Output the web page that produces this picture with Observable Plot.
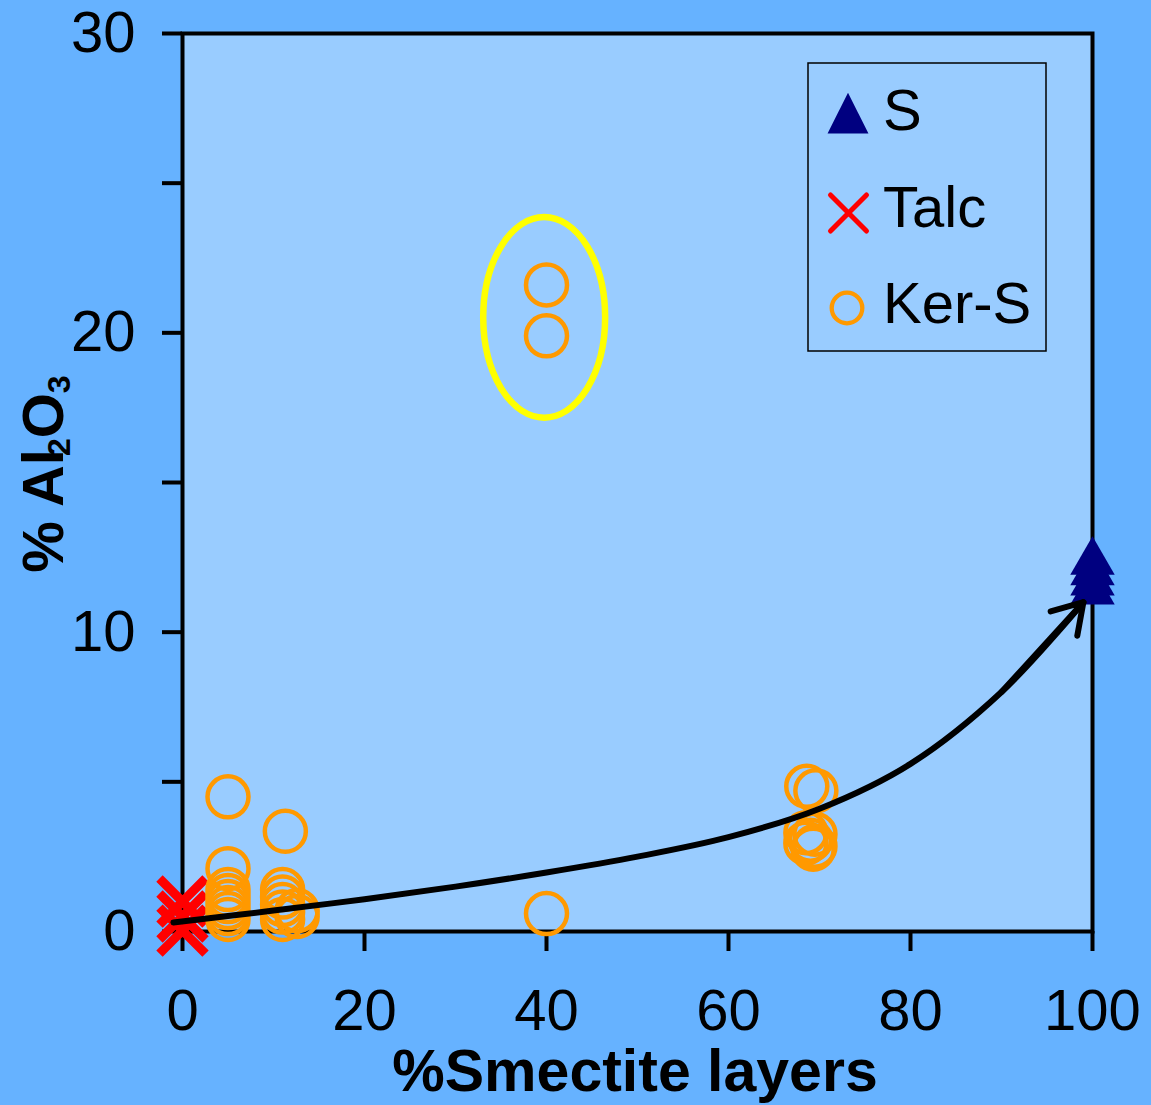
<!DOCTYPE html>
<html><head><meta charset="utf-8">
<script src="https://cdn.jsdelivr.net/npm/d3@7"></script>
<script src="https://cdn.jsdelivr.net/npm/@observablehq/plot@0.6"></script>
<style>
html,body{margin:0;padding:0;background:#66B2FF;width:1151px;height:1105px;overflow:hidden;}
#chart{position:relative;width:1151px;height:1105px;}
svg{display:block}
</style></head><body><div id="chart"></div>
<script>
// ---- data ----
const sX = [100, 100, 100, 100];
const sY = [12.35, 12.0, 11.65, 11.35];
const talcX = [0, 0, 0];
const talcY = [0.03, 0.5, 1.0];
const kerX = [5, 5, 5, 5, 5, 5, 5, 5, 11.3, 11, 11, 11, 11, 11, 12.6, 12.6, 40, 40, 40, 68.6, 69.6, 68.5, 69.5, 69, 68.5, 69.5, 69.3];
const kerY = [4.5, 2.1, 1.4, 1.2, 1.0, 0.8, 0.6, 0.4, 3.35, 1.4, 1.15, 0.9, 0.65, 0.4, 0.7, 0.5, 21.6, 19.9, 0.6, 4.85, 4.7, 3.3, 3.25, 3.05, 2.95, 2.85, 2.75];
const curveX = [-1, 10, 20, 30, 40, 50, 60, 70, 80, 90, 99];
const curveY = [0.3, 0.7, 1.08, 1.5, 1.97, 2.5, 3.15, 4.1, 5.6, 8.0, 11.0];
const xTicks = [0, 20, 40, 60, 80, 100];
const yTicks = [0, 5, 10, 15, 20, 25, 30];
const yLabels = [0, 10, 20, 30];
const ellipseCenter = [39.8, 20.5];
const ellipseRadius = [6.7, 3.35];
const legendNames = ["S", "Talc", "Ker-S"];
const xTitle = "%Smectite layers";

const FONT = "'Liberation Sans', Arial, sans-serif";
const sData = sX.map((x, i) => ({x, y: sY[i]}));
const talcData = talcX.map((x, i) => ({x, y: talcY[i]}));
const kerData = kerX.map((x, i) => ({x, y: kerY[i]}));
const curveData = curveX.map((x, i) => ({x, y: curveY[i]}));
const n = curveX.length;
const arrowData = [{x1: curveX[n - 2], y1: curveY[n - 2], x2: curveX[n - 1], y2: curveY[n - 1]}];

const plot = Plot.plot({
  width: 1151, height: 1105,
  marginLeft: 182, marginRight: 59, marginTop: 33, marginBottom: 174,
  style: {background: "transparent", fontFamily: FONT, color: "black", overflow: "visible"},
  x: {domain: [0, 100]},
  y: {domain: [0, 30]},
  marks: [
    Plot.frame({fill: "#99CCFF"}),
    Plot.frame({stroke: "black", strokeWidth: 4}),
    Plot.axisX({ticks: xTicks, tickSize: 20, tickPadding: 37, strokeWidth: 4, fontSize: 58, label: null, tickFormat: d => String(d)}),
    Plot.axisY({ticks: yTicks, tickSize: 20, strokeWidth: 4, label: null, tickFormat: () => ""}),
    Plot.axisY({ticks: yLabels, tickSize: 0, tickPadding: 47, fontSize: 58, label: null, tickFormat: d => String(d)}),
    Plot.dot(sData, {x: "x", y: "y", symbol: "triangle", r: 16.5, fill: "#000080", stroke: "none"}),
    Plot.dot(talcData, {x: "x", y: "y", symbol: "times", r: 21, stroke: "#FF0000", strokeWidth: 9, strokeLinecap: "butt"}),
    Plot.dot(kerData, {x: "x", y: "y", r: 20.5, stroke: "#FF9900", strokeWidth: 4.5, fill: "none"}),
    Plot.line(curveData, {x: "x", y: "y", stroke: "black", strokeWidth: 6, curve: "catmull-rom"}),
    Plot.arrow(arrowData, {x1: "x1", y1: "y1", x2: "x2", y2: "y2", stroke: "black", strokeWidth: 6, headLength: 8.5, headAngle: 64})
  ]
});

const svg = d3.select(plot);
const sx = plot.scale("x"), sy = plot.scale("y");

// yellow ellipse annotation
const ecx = sx.apply(ellipseCenter[0]), ecy = sy.apply(ellipseCenter[1]);
svg.append("ellipse")
  .attr("cx", ecx).attr("cy", ecy)
  .attr("rx", sx.apply(ellipseCenter[0] + ellipseRadius[0]) - ecx)
  .attr("ry", ecy - sy.apply(ellipseCenter[1] + ellipseRadius[1]))
  .attr("fill", "none").attr("stroke", "#FFFF00").attr("stroke-width", 6.5);

// x axis title
svg.append("text")
  .attr("x", 635).attr("y", 1091)
  .attr("text-anchor", "middle")
  .attr("font-family", FONT).attr("font-weight", "bold").attr("font-size", 59)
  .attr("fill", "black")
  .text(xTitle);

// y axis title with subscripts
const yt = svg.append("text")
  .attr("transform", "translate(63,474) rotate(-90)")
  .attr("text-anchor", "middle")
  .attr("font-family", FONT).attr("font-weight", "bold").attr("font-size", 58)
  .attr("fill", "black");
yt.append("tspan").text("% Al");
yt.append("tspan").attr("font-size", 32).attr("dy", 7).attr("dx", -7).text("2");
yt.append("tspan").attr("dy", -7).text("O");
yt.append("tspan").attr("font-size", 32).attr("dy", 7).text("3");

// legend
const lg = svg.append("g");
lg.append("rect").attr("x", 808).attr("y", 63).attr("width", 238).attr("height", 288)
  .attr("fill", "#99CCFF").attr("stroke", "black").attr("stroke-width", 1.5);
const rowY = [120, 213, 308];
const baseY = [130, 227, 323];
lg.append("path").attr("transform", `translate(848,${rowY[0]}) scale(1,1.15)`)
  .attr("d", d3.symbol(d3.symbolTriangle, 724)()).attr("fill", "#000080");
lg.append("path").attr("transform", `translate(848.5,${rowY[1]})`)
  .attr("d", d3.symbol(d3.symbolTimes, 847)()).attr("fill", "none")
  .attr("stroke", "#FF0000").attr("stroke-width", 5).attr("stroke-linecap", "round");
lg.append("circle").attr("cx", 847).attr("cy", rowY[2]).attr("r", 15.3)
  .attr("fill", "none").attr("stroke", "#FF9900").attr("stroke-width", 4.3);
legendNames.forEach((name, i) => {
  lg.append("text").attr("x", 883).attr("y", baseY[i])
    .attr("text-anchor", "start")
    .attr("font-family", FONT).attr("font-size", 58).attr("fill", "black").text(name);
});

document.getElementById("chart").appendChild(plot);
</script></body></html>
